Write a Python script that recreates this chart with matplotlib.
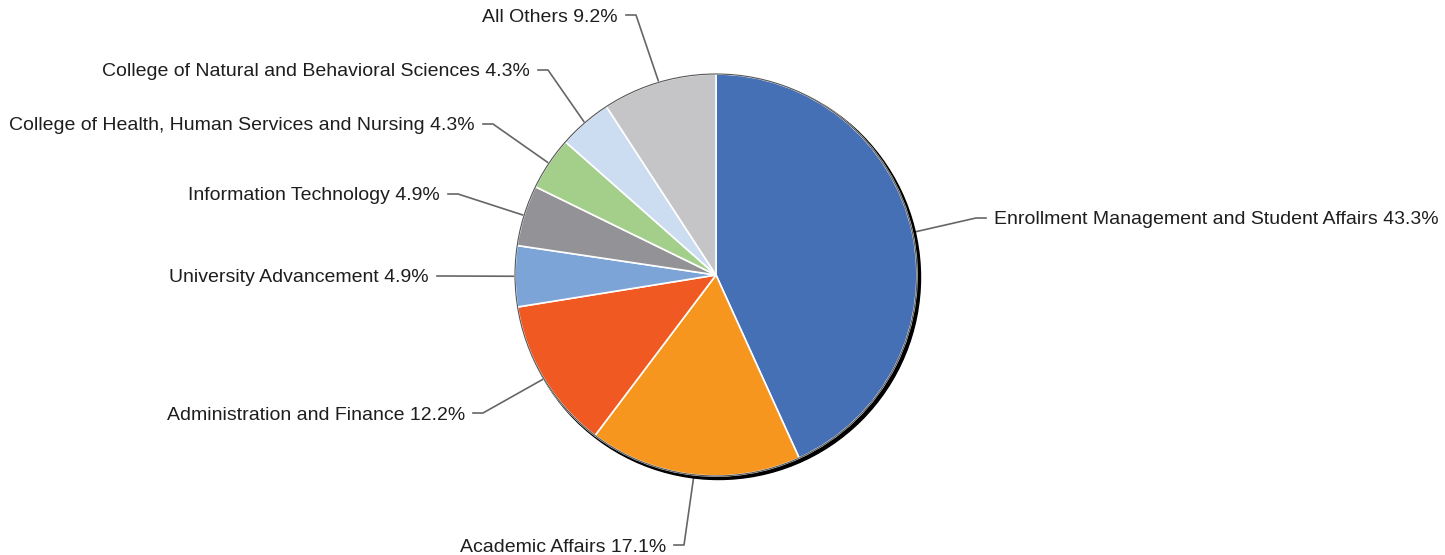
import numpy as np
import matplotlib
matplotlib.use("Agg")
import matplotlib.pyplot as plt
from matplotlib.patches import Circle

plt.rcParams['font.family'] = ['Liberation Sans', 'DejaVu Sans']

# data, clockwise from 12 o'clock
labels = ["Enrollment Management and Student Affairs",
          "Academic Affairs",
          "Administration and Finance",
          "University Advancement",
          "Information Technology",
          "College of Health, Human Services and Nursing",
          "College of Natural and Behavioral Sciences",
          "All Others"]
shares = [43.3, 17.1, 12.2, 4.9, 4.9, 4.3, 4.3, 9.2]
colors = ["#4570b5", "#f7961f", "#f05a22", "#7ca4d7",
          "#939297", "#a3cf8b", "#ccdcf1", "#c5c5c7"]

# layout (pixel coords, y down): leader elbow for each label, and side
elbows = [(976, 218), (684, 545), (483, 413), (447, 276),
          (458, 194), (493, 124), (548, 70), (636, 15)]
sides = [1, -1, -1, -1, -1, -1, -1, -1]

W, H = 1445, 555
cx, cy, R = 716, 275, 201


def py(y):
    return H - y


fig = plt.figure(figsize=(W / 100, H / 100), dpi=100)
ax = fig.add_axes([0, 0, 1, 1])
ax.axis("off")

# shadow behind the pie
ax.add_patch(Circle((cx + 2.5, py(cy) - 2.5), R + 1, color="black", zorder=1))

wedges, _ = ax.pie(shares, colors=colors, startangle=90, counterclock=False,
                   center=(cx, py(cy)), radius=R,
                   wedgeprops=dict(edgecolor="white", linewidth=1.2))
for w in wedges:
    w.set_zorder(2)
ax.add_patch(Circle((cx, py(cy)), R, fill=False, edgecolor="#555555",
                    linewidth=0.8, zorder=3))
ax.set_xlim(0, W)
ax.set_ylim(0, H)
ax.set_aspect("equal")

total = sum(shares)
start = 90.0
for lab, val, (ex, ey), side in zip(labels, shares, elbows, sides):
    span = val / total * 360
    mid = np.deg2rad(start - span / 2)
    start -= span
    px = cx + R * np.cos(mid)
    pyy = cy - R * np.sin(mid)
    hx = ex + side * 10
    ax.plot([px, ex, hx], [py(pyy), py(ey), py(ey)], color="#666666",
            linewidth=1.2, zorder=0)
    ax.text(hx + side * 8, py(ey + 2), f"{lab} {val:.1f}%",
            ha="left" if side > 0 else "right", va="center",
            fontsize=14, color="#1e1e1e")

fig.savefig("out.png", dpi=100)
